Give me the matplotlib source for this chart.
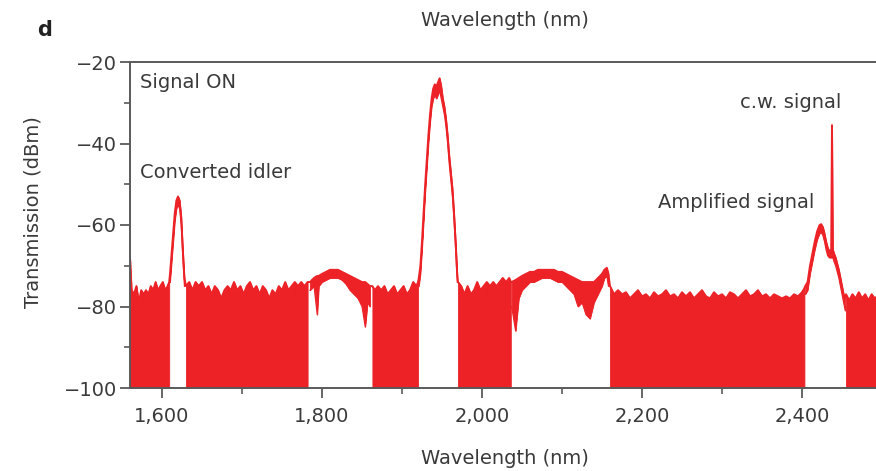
import numpy as np
import matplotlib
matplotlib.use('Agg')
import matplotlib.pyplot as plt
from matplotlib.ticker import MultipleLocator, FuncFormatter

floor_dbm = -100

# stretches where the noise reaches down to the bottom of the plot
floor1_wl = [1560, 1562, 1565, 1568, 1571, 1574, 1577, 1580, 1583, 1586, 1589, 1592, 1595, 1598, 1601, 1604, 1607, 1609]
floor1_top = [-68, -76, -77, -75, -79, -76, -77, -76, -77, -75, -76, -74, -76, -75, -74, -76, -75, -74]

floor2_wl = [1630, 1634, 1638, 1642, 1646, 1650, 1654, 1658, 1662, 1666, 1670, 1674, 1678, 1682, 1686, 1690, 1694, 1698,
             1702, 1706, 1710, 1714, 1718, 1722, 1726, 1730, 1734, 1738, 1742, 1746, 1750, 1754, 1758, 1762, 1766, 1770,
             1774, 1778, 1782]
floor2_top = [-75, -74, -76, -74, -75, -74, -76, -75, -77, -75, -76, -78, -76, -75, -76, -74, -76, -75,
              -77, -75, -74, -76, -75, -77, -75, -76, -78, -76, -77, -75, -76, -74, -76, -75, -74, -75,
              -74, -75, -74]

floor3_wl = [1863, 1866, 1870, 1874, 1878, 1882, 1886, 1890, 1894, 1898, 1902, 1906, 1910, 1914, 1918, 1920]
floor3_top = [-75, -76, -75, -76, -75, -77, -76, -75, -77, -76, -75, -77, -76, -74, -75, -74]

floor4_wl = [1970, 1974, 1978, 1982, 1986, 1990, 1994, 1998, 2002, 2006, 2010, 2014, 2018, 2022, 2026, 2030, 2034, 2036]
floor4_top = [-74, -75, -77, -75, -77, -76, -74, -76, -75, -74, -75, -74, -75, -74, -73, -74, -73, -74]

floor5_wl = [2160, 2165, 2170, 2175, 2180, 2185, 2190, 2195, 2200, 2205, 2210, 2215, 2220, 2225, 2230, 2235, 2240,
             2245, 2250, 2255, 2260, 2265, 2270, 2275, 2280, 2285, 2290, 2295, 2300, 2305, 2310, 2315, 2320, 2325,
             2330, 2335, 2340, 2345, 2350, 2355, 2360, 2365, 2370, 2375, 2380, 2385, 2390, 2395, 2400, 2403]
floor5_top = [-75, -77, -76, -77, -76.5, -78, -77, -76, -77.5, -77, -78, -76.5, -77.5, -77, -76, -77.5, -77,
              -78, -76.5, -77.5, -76.5, -78, -77, -76, -77.5, -78, -76.5, -77.5, -77, -78, -76.5, -77, -78, -77,
              -76, -77.5, -77, -76, -77.5, -77, -78, -77, -77.5, -78, -77.5, -78, -77, -77.5, -76.5, -75.5]

floor6_wl = [2455, 2459, 2463, 2467, 2471, 2475, 2479, 2483, 2487, 2491, 2494]
floor6_top = [-77, -78.5, -77, -78, -76.5, -78, -77, -78.5, -77, -78, -77.5]

# narrow bands: converted idler, pump, humps and amplified signal
idler_wl = [1610, 1612, 1614, 1616, 1618, 1620, 1622, 1624, 1626, 1628]
idler_top = [-72, -67, -62, -57, -54, -53, -54, -58, -66, -73]
idler_bottom = [-74, -69, -64, -59, -56, -55, -56, -60, -68, -75]

hump1_wl = [1785, 1790, 1794, 1796, 1800, 1805, 1810, 1815, 1820, 1825, 1830, 1835, 1840, 1845, 1850, 1854, 1857, 1860]
hump1_top = [-74, -73, -72.5, -72.5, -72, -71.5, -71, -71, -71, -71.5, -72, -72.5, -73, -73.5, -74, -74, -74.5, -75]
hump1_bottom = [-76, -75, -82, -75, -74, -73.5, -73, -73, -73, -73.5, -74.5, -76, -77, -78, -80, -85, -79, -80]

pump_wl = [1921, 1923, 1925, 1927, 1929, 1931, 1933, 1935, 1937, 1939, 1941, 1943, 1945, 1947, 1949, 1951, 1953,
           1955, 1957, 1959, 1961, 1963, 1965, 1967, 1969]
pump_top = [-73, -70, -64, -57, -50, -44, -38, -33, -29, -26.5, -25.5, -26, -25, -24, -26, -29, -31,
            -34, -38, -43, -47, -51, -57, -64, -72]
pump_bottom = [-75, -72, -66, -59, -52, -46, -40, -35, -31, -29, -28, -29, -28, -27, -29, -31, -33,
               -36, -40, -45, -49, -53, -59, -66, -74]

hump2_wl = [2037, 2042, 2046, 2050, 2055, 2060, 2065, 2070, 2075, 2080, 2085, 2090, 2095, 2100, 2105, 2110, 2115,
            2120, 2125, 2130, 2135, 2140, 2145, 2150, 2153, 2156, 2158]
hump2_top = [-74, -73.5, -73, -72.5, -72, -71.5, -71.5, -71, -71, -71, -71, -71, -71.5, -71.5, -72, -72.5, -73,
             -73.5, -74, -74, -74, -74, -73, -72, -71, -70.5, -72]
hump2_bottom = [-80, -86, -78, -76, -75, -74, -74, -73.5, -73, -73, -73, -73.5, -74, -74, -75, -76, -77,
                -80, -79, -82, -83, -79, -77, -75, -73, -72.5, -75]

amp_wl = [2404, 2407, 2410, 2413, 2416, 2419, 2422, 2424, 2426, 2428, 2430, 2432, 2434, 2436.5, 2437.5, 2438.5,
          2440, 2442, 2444, 2446, 2448, 2450, 2452, 2454]
amp_top = [-75, -74, -70, -67, -64, -61.5, -60, -59.8, -60.5, -62, -64, -65.5, -66.5, -66, -35.5, -66,
           -67, -68, -69.5, -71, -73, -75, -77, -78]
amp_bottom = [-77, -76, -72, -69, -66, -63.5, -62, -61.8, -62.5, -64, -66, -67.5, -68, -68, -68, -68,
              -69, -70, -71.5, -73, -75, -77, -79, -81]

segments = [
    (floor1_wl, floor1_top, None),
    (idler_wl, idler_top, idler_bottom),
    (floor2_wl, floor2_top, None),
    (hump1_wl, hump1_top, hump1_bottom),
    (floor3_wl, floor3_top, None),
    (pump_wl, pump_top, pump_bottom),
    (floor4_wl, floor4_top, None),
    (hump2_wl, hump2_top, hump2_bottom),
    (floor5_wl, floor5_top, None),
    (amp_wl, amp_top, amp_bottom),
    (floor6_wl, floor6_top, None),
]

red = '#ec2227'
text_col = '#3a3a3a'
spine_col = '#5a5a5a'
fs = 14

plt.rcParams['font.family'] = ['DejaVu Sans']

fig = plt.figure(figsize=(8.76, 4.71), dpi=100)
ax = fig.add_axes([130 / 876, 83 / 471, 746 / 876, 326 / 471])

for wl, top, bottom in segments:
    if bottom is None:
        bottom = [floor_dbm] * len(wl)
    ax.fill_between(wl, bottom, top, color=red, lw=0.6)
    ax.plot(wl, bottom, color=red, lw=0.8)

# upper trace drawn as one line over all segments
all_wl = np.concatenate([s[0] for s in segments])
all_top = np.concatenate([s[1] for s in segments])
ax.plot(all_wl, all_top, color=red, lw=1.4)

ax.set_xlim(1560, 2492.5)
ax.set_ylim(-100, -20)
ax.xaxis.set_major_locator(MultipleLocator(200))
ax.xaxis.set_minor_locator(MultipleLocator(100))
ax.yaxis.set_major_locator(MultipleLocator(20))
ax.yaxis.set_minor_locator(MultipleLocator(10))
ax.xaxis.set_major_formatter(FuncFormatter(lambda v, p: f'{v:,.0f}'))

for side in ['left', 'bottom', 'top']:
    ax.spines[side].set_color(spine_col)
    ax.spines[side].set_linewidth(1.4)
ax.spines['right'].set_visible(False)

ax.tick_params(which='major', length=7, width=1.3, color=spine_col, labelsize=fs, labelcolor=text_col)
ax.tick_params(axis='y', which='major', pad=2.5)
ax.tick_params(axis='x', which='major', pad=7)
ax.tick_params(which='minor', length=4.5, width=1.2, color=spine_col)

# axis titles placed as in the reference
fig.text(505 / 876, 1 - 458 / 471, 'Wavelength (nm)', fontsize=fs, color=text_col, ha='center', va='center')
fig.text(505 / 876, 1 - 20 / 471, 'Wavelength (nm)', fontsize=fs, color=text_col, ha='center', va='center')
fig.text(33 / 876, 1 - 212 / 471, 'Transmission (dBm)', fontsize=fs, color=text_col, ha='center', va='center',
         rotation=90)
fig.text(45 / 876, 1 - 30 / 471, 'd', fontsize=15, fontweight='bold', color='#222222', ha='center', va='center')

ax.text(1572, -25, 'Signal ON', fontsize=fs, color=text_col, va='center')
ax.text(1572, -47, 'Converted idler', fontsize=fs, color=text_col, va='center')
ax.text(2220, -54.5, 'Amplified signal', fontsize=fs, color=text_col, va='center')
ax.text(2322, -30, 'c.w. signal', fontsize=fs, color=text_col, va='center')

fig.savefig('out.png', dpi=100)
